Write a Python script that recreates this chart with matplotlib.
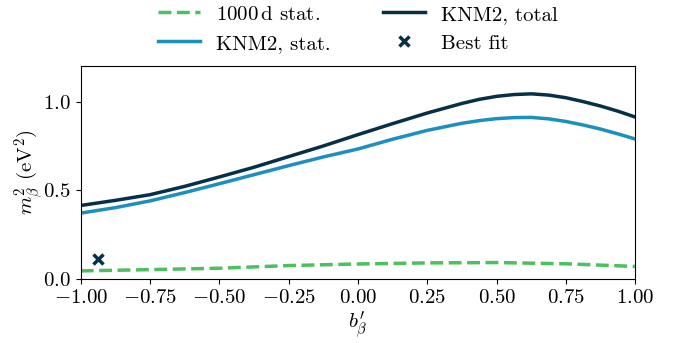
import matplotlib
matplotlib.use("Agg")
import matplotlib.pyplot as plt
import numpy as np

plt.rcParams["font.family"] = "serif"
plt.rcParams["font.serif"] = ["cmr10"]
plt.rcParams["mathtext.fontset"] = "cm"
plt.rcParams["axes.formatter.use_mathtext"] = True
plt.rcParams["font.size"] = 15

# m_beta^2 sensitivity vs b'_beta
b_grid = np.array([-1.0, -0.875, -0.75, -0.625, -0.5, -0.375, -0.25, -0.125, 0.0,
                   0.125, 0.25, 0.375, 0.4375, 0.5, 0.5625, 0.625, 0.6875, 0.75,
                   0.8125, 0.875, 0.9375, 1.0])
knm2_total = np.array([0.414, 0.443, 0.475, 0.522, 0.575, 0.630, 0.690, 0.750, 0.814,
                       0.876, 0.936, 0.990, 1.013, 1.030, 1.040, 1.044, 1.037, 1.022,
                       1.000, 0.975, 0.946, 0.913])
knm2_stat = np.array([0.371, 0.402, 0.440, 0.487, 0.537, 0.588, 0.639, 0.688, 0.733,
                      0.788, 0.838, 0.878, 0.893, 0.904, 0.910, 0.911, 0.903, 0.888,
                      0.868, 0.845, 0.818, 0.789])

b_grid_1000d = np.array([-1.0, -0.75, -0.5, -0.25, 0.0, 0.25, 0.5, 0.75, 1.0])
stat_1000d = np.array([0.045, 0.052, 0.060, 0.075, 0.084, 0.090, 0.092, 0.085, 0.070])

best_fit_b = -0.937
best_fit_m2 = 0.111

c_green = "#4cc061"
c_blue = "#1d8fbf"
c_dark = "#062f48"

fig, ax = plt.subplots(figsize=(6.73, 3.43), dpi=100)
fig.subplots_adjust(left=0.12, right=0.944, top=0.807, bottom=0.187)

ax.plot(b_grid_1000d, stat_1000d, ls="--", color=c_green, lw=2.5, label=r"1000$\,$d stat.")
ax.plot(b_grid, knm2_stat, color=c_blue, lw=2.5, label="KNM2, stat.")
ax.plot(b_grid, knm2_total, color=c_dark, lw=2.5, label="KNM2, total")
ax.plot(best_fit_b, best_fit_m2, ls="none", marker="x", color=c_dark, ms=7, mew=2.5,
        label="Best fit")

ax.set_xlim(-1, 1)
ax.set_ylim(0, 1.2)
ax.set_xticks(np.arange(-1, 1.01, 0.25))
ax.set_yticks([0.0, 0.5, 1.0])
ax.xaxis.set_major_formatter(matplotlib.ticker.FuncFormatter(lambda v, p: r"$%.2f$" % v))
ax.yaxis.set_major_formatter(matplotlib.ticker.FuncFormatter(lambda v, p: r"$%.1f$" % v))
ax.set_xlabel(r"$b^{\prime}_{\beta}$", labelpad=2)
ax.set_ylabel(r"$m_\beta^2$ (eV$^2$)", labelpad=-2)

ax.legend(loc="lower center", bbox_to_anchor=(0.5, 1.005), ncol=2, frameon=False,
          columnspacing=2.5, handlelength=2.0, borderaxespad=0.2)

fig.savefig("out.png", dpi=100)
